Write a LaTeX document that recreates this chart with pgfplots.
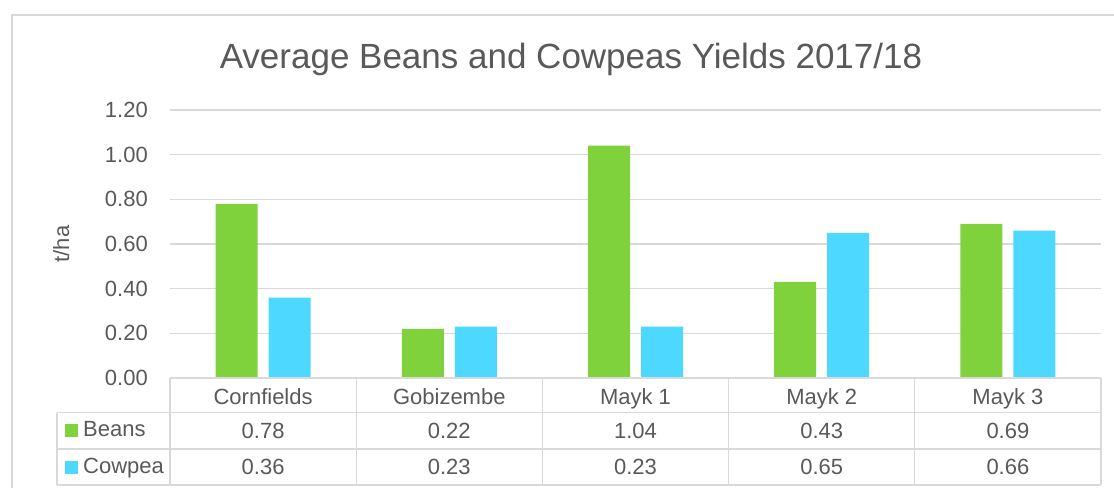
\documentclass[border=0pt]{standalone}
\usepackage{pgfplots}
\pgfplotsset{compat=1.18}
\usepackage{pgfplotstable}
\usepackage{fontspec}
\setmainfont{Liberation Sans}
\definecolor{beans}{HTML}{80D23C}
\definecolor{cowpea}{HTML}{4DD9FF}
\definecolor{txt}{HTML}{595959}
\definecolor{gridc}{HTML}{D9D9D9}

\pgfplotstableread{
x beans cowpea
0 0.78 0.36
1 0.22 0.23
2 1.04 0.23
3 0.43 0.65
4 0.69 0.66
}\yields

\begin{document}
\begin{tikzpicture}[x=1pt,y=1pt]
\useasboundingbox (0,0) rectangle (1114,488);
\draw[gridc, line width=1.2pt] (12,0) -- (12,473) -- (1114,473);
\node[txt, anchor=base, font=\fontsize{35}{40}\selectfont] at (571,419) {Average Beans and Cowpeas Yields 2017/18};
\node[txt, anchor=base, rotate=90, font=\fontsize{22}{26}\selectfont] at (69,244) {t/ha};
\begin{axis}[
  at={(170pt,110pt)}, anchor=south west,
  scale only axis, width=931pt, height=268pt,
  xmin=-0.5, xmax=4.5, ymin=0, ymax=1.2,
  clip=false,
  axis line style={draw=none},
  major tick length=0pt,
  xtick={0,1,2,3,4},
  xticklabels={Cornfields,Gobizembe,Mayk 1,Mayk 2,Mayk 3},
  xticklabel style={anchor=base, yshift=-26pt, inner sep=0pt},
  ytick={0,0.2,...,1.2},
  yticklabel style={anchor=east, inner sep=0pt, xshift=-22pt,
    /pgf/number format/.cd, fixed, fixed zerofill, precision=2, assume math mode=true},
  ymajorgrids,
  grid style={gridc, line width=1.2pt},
  tick label style={txt, font=\fontsize{22}{26}\selectfont},
]
\addplot[ybar, bar width=42pt, bar shift=-26.5pt, fill=beans, draw=none] table[x=x, y=beans]{\yields};
\addplot[ybar, bar width=42pt, bar shift=26.5pt, fill=cowpea, draw=none] table[x=x, y=cowpea]{\yields};
% data table values
\addplot[draw=none, mark=none, point meta=explicit,
  nodes near coords={\pgfmathprintnumber[fixed,fixed zerofill,precision=2,assume math mode=true]{\pgfplotspointmeta}},
  every node near coord/.append style={anchor=base, txt, font=\fontsize{22}{26}\selectfont, inner sep=0pt}]
  table[x=x, y expr=-0.273, meta=beans]{\yields};
\addplot[draw=none, mark=none, point meta=explicit,
  nodes near coords={\pgfmathprintnumber[fixed,fixed zerofill,precision=2,assume math mode=true]{\pgfplotspointmeta}},
  every node near coord/.append style={anchor=base, txt, font=\fontsize{22}{26}\selectfont, inner sep=0pt}]
  table[x=x, y expr=-0.434, meta=cowpea]{\yields};
% table frame
\draw[gridc, line width=1.2pt] (-0.5,0) -- (4.5,0);
\draw[gridc, line width=1.2pt] (-1.107,-0.155) -- (4.5,-0.155);
\draw[gridc, line width=1.2pt] (-1.107,-0.318) -- (4.5,-0.318);
\draw[gridc, line width=1.2pt] (-1.107,-0.479) -- (4.5,-0.479);
\draw[gridc, line width=1.2pt] (-1.107,-0.155) -- (-1.107,-0.479);
\pgfplotsinvokeforeach{-0.5,0.5,1.5,2.5,3.5,4.5}{
  \draw[gridc, line width=1.2pt] (#1,0) -- (#1,-0.479);
}
\node[anchor=base west, inner sep=0pt, txt, font=\fontsize{22}{26}\selectfont] at (-1.064,-0.264) {{\color{beans}\rule{13pt}{13pt}}\hspace{5pt}Beans};
\node[anchor=base west, inner sep=0pt, txt, font=\fontsize{22}{26}\selectfont] at (-1.064,-0.4298) {{\color{cowpea}\rule{13pt}{13pt}}\hspace{5pt}Cowpea};
\end{axis}
\end{tikzpicture}
\end{document}
